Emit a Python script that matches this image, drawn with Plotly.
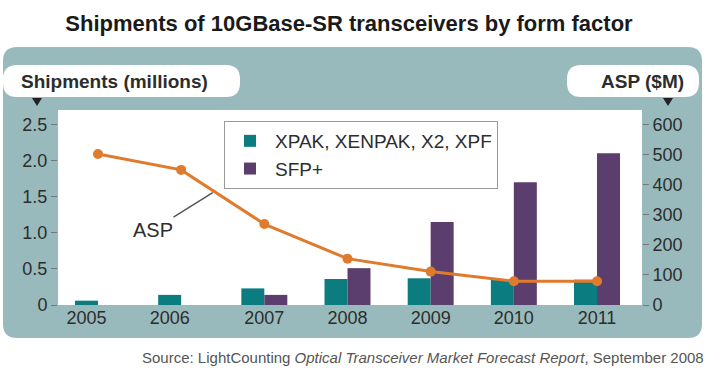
import plotly.graph_objects as go

# ---------------- data ----------------
years = [2005, 2006, 2007, 2008, 2009, 2010, 2011]
year_labels = ["2005", "2006", "2007", "2008", "2009", "2010", "2011"]
xpak_ship = [0.06, 0.14, 0.23, 0.36, 0.37, 0.35, 0.35]
sfp_ship = [0.0, 0.0, 0.14, 0.51, 1.15, 1.70, 2.10]
asp_values = [502, 449, 269, 154, 111, 79, 79]
left_ticks = [0, 0.5, 1.0, 1.5, 2.0, 2.5]
left_ticktext = ["0", "0.5", "1.0", "1.5", "2.0", "2.5"]
right_ticks = [0, 100, 200, 300, 400, 500, 600]

# ---------------- style ----------------
FONT = "Liberation Sans, Arial, sans-serif"
TXT = "#2d2d2d"
PANEL = "#98babc"
TEAL = "#0b7d80"
PURPLE = "#5c3e6e"
ORANGE = "#e07a2c"

W_FIG, H_FIG = 720, 388
L, R, T, B = 58, 642, 110, 305
PW, PH = R - L, B - T

def px(x):
    return (x - L) / PW

def py(y):
    return (B - y) / PH

def rrect(x0, y0, x1, y1, r):
    pts = [
        f"M {px(x0 + r)},{py(y0)}",
        f"L {px(x1 - r)},{py(y0)}",
        f"Q {px(x1)},{py(y0)} {px(x1)},{py(y0 + r)}",
        f"L {px(x1)},{py(y1 - r)}",
        f"Q {px(x1)},{py(y1)} {px(x1 - r)},{py(y1)}",
        f"L {px(x0 + r)},{py(y1)}",
        f"Q {px(x0)},{py(y1)} {px(x0)},{py(y1 - r)}",
        f"L {px(x0)},{py(y0 + r)}",
        f"Q {px(x0)},{py(y0)} {px(x0 + r)},{py(y0)} Z",
    ]
    return " ".join(pts)

def tri(cx, cy, s):
    return (f"M {px(cx - s)},{py(cy - s * 0.8)} L {px(cx + s)},{py(cy - s * 0.8)} "
            f"L {px(cx)},{py(cy + s * 0.8)} Z")

# x range in years derived from plot pixels
yr_px = 83.2
x_lo = 2005 - (98 - L) / yr_px
x_hi = 2011 + (R - 597) / yr_px
bar_w = 23 / yr_px
# labels for years with a single bar sit under that bar
tickpos = [y - bar_w / 2 if s == 0 else y for y, s in zip(years, sfp_ship)]

fig = go.Figure()
fig.add_trace(go.Bar(x=years, y=xpak_ship, name="XPAK, XENPAK, X2, XPF",
                     marker=dict(color=TEAL, line=dict(width=0))))
fig.add_trace(go.Bar(x=years, y=sfp_ship, name="SFP+",
                     marker=dict(color=PURPLE, line=dict(width=0))))
fig.add_trace(go.Scatter(x=years, y=asp_values, yaxis="y2", mode="lines+markers",
                         line=dict(color=ORANGE, width=3),
                         marker=dict(color=ORANGE, size=10),
                         showlegend=False, name="ASP"))

shapes = [
    dict(type="path", xref="paper", yref="paper", layer="below",
         path=rrect(3, 47, 702, 338, 14), fillcolor=PANEL, line=dict(width=0)),
    dict(type="path", xref="paper", yref="paper", layer="below",
         path=rrect(3, 65, 240, 97, 14), fillcolor="white", line=dict(width=0)),
    dict(type="path", xref="paper", yref="paper", layer="below",
         path=rrect(567, 65, 699, 97, 14), fillcolor="white", line=dict(width=0)),
    dict(type="rect", xref="paper", yref="paper", layer="below",
         x0=0, x1=1, y0=0, y1=1, fillcolor="white", line=dict(width=0)),
    dict(type="path", xref="paper", yref="paper", layer="below",
         path=tri(37, 102, 5), fillcolor="#222", line=dict(width=0)),
    dict(type="path", xref="paper", yref="paper", layer="below",
         path=tri(668, 102, 5), fillcolor="#222", line=dict(width=0)),
]

annotations = [
    dict(xref="paper", yref="paper", x=px(19), y=py(81), xanchor="left", yanchor="middle",
         text="<b>Shipments (millions)</b>", showarrow=False,
         font=dict(family=FONT, size=19, color=TXT)),
    dict(xref="paper", yref="paper", x=px(686), y=py(81), xanchor="right", yanchor="middle",
         text="<b>ASP ($M)</b>", showarrow=False,
         font=dict(family=FONT, size=19, color=TXT)),
    dict(x=2006.4, y=asp_values[1] + 0.4 * (asp_values[2] - asp_values[1]), xref="x", yref="y2",
         text="ASP", showarrow=True, arrowhead=0, arrowwidth=1.5, arrowcolor="#555",
         ax=-61, ay=38, standoff=2,
         font=dict(family=FONT, size=20, color=TXT)),
    dict(xref="paper", yref="paper", x=px(706), y=py(357), xanchor="right", yanchor="middle",
         text="Source: LightCounting <i>Optical Transceiver Market Forecast Report</i>, September 2008",
         showarrow=False, font=dict(family=FONT, size=15, color="#555")),
]

fig.update_layout(
    width=W_FIG, height=H_FIG,
    margin=dict(l=L, r=W_FIG - R, t=T, b=H_FIG - B, pad=0),
    paper_bgcolor="white", plot_bgcolor="rgba(0,0,0,0)",
    title=dict(text="<b>Shipments of 10GBase-SR transceivers by form factor</b>",
               x=349 / W_FIG, xanchor="center", y=1 - 23 / H_FIG, yanchor="middle",
               xref="container", yref="container",
               font=dict(family=FONT, size=22, color="#1a1a1a")),
    barmode="group", bargap=1 - 2 * bar_w, bargroupgap=0,
    xaxis=dict(range=[x_lo, x_hi], tickvals=tickpos, ticktext=year_labels,
               showgrid=False, zeroline=False, showline=False, ticks="",
               tickfont=dict(family=FONT, size=18, color=TXT)),
    yaxis=dict(range=[0, 2.7], tickvals=left_ticks, ticktext=left_ticktext,
               showgrid=False, zeroline=False, showline=False,
               ticks="outside", ticklen=6, tickcolor="#777", tickwidth=1,
               tickfont=dict(family=FONT, size=18, color=TXT)),
    yaxis2=dict(range=[0, 648], tickvals=right_ticks, overlaying="y", side="right",
                showgrid=False, zeroline=False, showline=False,
                ticks="outside", ticklen=6, tickcolor="#777", tickwidth=1,
                tickfont=dict(family=FONT, size=18, color=TXT)),
    legend=dict(x=px(224), y=py(121), xanchor="left", yanchor="top",
                bgcolor="white", bordercolor="#9a9a9a", borderwidth=1,
                font=dict(family=FONT, size=19, color=TXT), traceorder="normal",
                itemwidth=40, tracegroupgap=0),
    shapes=shapes, annotations=annotations,
)

fig.write_html("out.html", config={"displayModeBar": False},
               post_script="document.body.style.margin='0';document.body.style.padding='0';")
